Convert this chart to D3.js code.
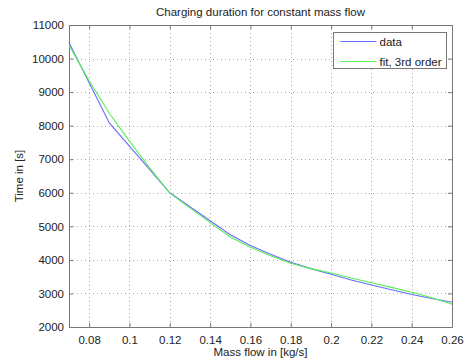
<!DOCTYPE html>
<html>
<head>
<meta charset="utf-8">
<script src="https://cdn.jsdelivr.net/npm/d3@7"></script>
<style>
  body { margin: 0; background: #fff; }
  text { font-family: 'Liberation Sans', Arial, sans-serif; fill: #222; }
</style>
</head>
<body>
<svg id="chart" width="466" height="360"></svg>
<script>
// measured series
const dataX = [0.07, 0.09, 0.12, 0.15, 0.16, 0.17, 0.18, 0.19, 0.2, 0.21, 0.22, 0.23, 0.24, 0.25, 0.26]
const dataY = [10480, 8080, 6000, 4750, 4430, 4170, 3930, 3740, 3570, 3400, 3250, 3110, 2970, 2850, 2740]

// 3rd order fit
const fitX = [0.07, 0.08, 0.09, 0.1, 0.11, 0.12, 0.13, 0.14, 0.15, 0.16, 0.17, 0.18, 0.19, 0.2, 0.21, 0.22, 0.23, 0.24, 0.25, 0.26]
const fitY = [10400, 9340, 8370, 7540, 6740, 5990, 5550, 5110, 4680, 4380, 4120, 3900, 3740, 3610, 3460, 3320, 3180, 3035, 2870, 2677]

const xTicks = [0.08, 0.1, 0.12, 0.14, 0.16, 0.18, 0.2, 0.22, 0.24, 0.26]
const yTicks = [2000, 3000, 4000, 5000, 6000, 7000, 8000, 9000, 10000, 11000]

const margin = { top: 25, right: 14, bottom: 33, left: 69 },
  w = 466 - margin.left - margin.right,
  h = 360 - margin.top - margin.bottom

const svg = d3.select('#chart')
const g = svg.append('g').attr('transform', `translate(${margin.left},${margin.top})`)

const x = d3.scaleLinear().domain([0.07, 0.26]).range([0, w])
const y = d3.scaleLinear().domain([2000, 11000]).range([h, 0])

// dotted grid
g.append('g')
  .selectAll('line')
  .data(xTicks.filter((t) => t < 0.26))
  .enter()
  .append('line')
  .attr('x1', (d) => Math.round(x(d)) + 0.5)
  .attr('x2', (d) => Math.round(x(d)) + 0.5)
  .attr('y1', 0)
  .attr('y2', h)
  .attr('stroke', '#aaa')
  .attr('stroke-dasharray', '1,3')
g.append('g')
  .selectAll('line')
  .data(yTicks.filter((t) => t > 2000 && t < 11000))
  .enter()
  .append('line')
  .attr('x1', 0)
  .attr('x2', w)
  .attr('y1', (d) => Math.round(y(d)) + 0.5)
  .attr('y2', (d) => Math.round(y(d)) + 0.5)
  .attr('stroke', '#aaa')
  .attr('stroke-dasharray', '1,3')

// axes with inward ticks
const axisStyle = (sel) => {
  sel.select('.domain').attr('stroke', '#777')
  sel.selectAll('.tick line').attr('stroke', '#777')
  sel.selectAll('.tick text').style('font-size', '11.5px').attr('fill', '#222')
}
g.append('g')
  .attr('transform', `translate(0,${h})`)
  .call(d3.axisBottom(x).tickValues(xTicks).tickFormat(d3.format('')).tickSizeInner(-4).tickSizeOuter(0).tickPadding(9))
  .call(axisStyle)
g.append('g')
  .call(d3.axisLeft(y).tickValues(yTicks).tickFormat(d3.format('d')).tickSizeInner(-4).tickSizeOuter(0).tickPadding(5))
  .call(axisStyle)
g.append('g')
  .call(d3.axisTop(x).tickValues(xTicks).tickFormat('').tickSizeInner(-4).tickSizeOuter(0))
  .call(axisStyle)
g.append('g')
  .attr('transform', `translate(${w},0)`)
  .call(d3.axisRight(y).tickValues(yTicks).tickFormat('').tickSizeInner(-4).tickSizeOuter(0))
  .call(axisStyle)

// lines
const line = d3.line().x((d) => x(d[0])).y((d) => y(d[1]))
g.append('path')
  .datum(dataX.map((v, i) => [v, dataY[i]]))
  .attr('fill', 'none')
  .attr('stroke', '#6a6aff')
  .attr('stroke-width', 1.1)
  .attr('d', line)
g.append('path')
  .datum(fitX.map((v, i) => [v, fitY[i]]))
  .attr('fill', 'none')
  .attr('stroke', '#55f055')
  .attr('stroke-width', 1.1)
  .attr('d', line)

// titles
svg.append('text')
  .attr('x', margin.left + w / 2)
  .attr('y', 16)
  .attr('text-anchor', 'middle')
  .style('font-size', '11.5px')
  .text('Charging duration for constant mass flow')
svg.append('text')
  .attr('x', margin.left + w / 2)
  .attr('y', 356)
  .attr('text-anchor', 'middle')
  .style('font-size', '11.5px')
  .text('Mass flow in [kg/s]')
svg.append('text')
  .attr('transform', `translate(23,${margin.top + h / 2}) rotate(-90)`)
  .attr('text-anchor', 'middle')
  .style('font-size', '11.5px')
  .text('Time in [s]')

// legend
const lg = svg.append('g').attr('transform', 'translate(333.5,32.5)')
lg.append('rect').attr('width', 113).attr('height', 36).attr('fill', '#fff').attr('stroke', '#777')
const legendItems = [
  { label: 'data', color: '#6a6aff', cy: 9 },
  { label: 'fit, 3rd order', color: '#55f055', cy: 29 },
]
legendItems.forEach((it) => {
  lg.append('line').attr('x1', 7).attr('x2', 43).attr('y1', it.cy).attr('y2', it.cy).attr('stroke', it.color).attr('stroke-width', 1.1)
  lg.append('text').attr('x', 46).attr('y', it.cy + 4).style('font-size', '11.5px').text(it.label)
})
</script>
</body>
</html>
